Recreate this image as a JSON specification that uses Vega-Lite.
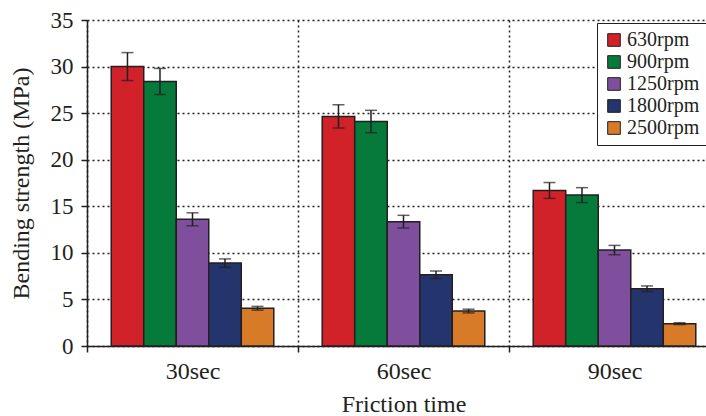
{
  "$schema": "https://vega.github.io/schema/vega-lite/v6.json",
  "width": 633,
  "height": 326,
  "autosize": {"type": "none"},
  "padding": {"left": 87, "top": 20, "right": 0, "bottom": 70},
  "config": {"font": "Liberation Serif", "view": {"stroke": null}},
  "data": {
    "values": [
      {"time": "30sec", "speed": "630rpm", "value": 30.0, "lo": 28.5, "hi": 31.5},
      {"time": "30sec", "speed": "900rpm", "value": 28.4, "lo": 27.0, "hi": 29.8},
      {"time": "30sec", "speed": "1250rpm", "value": 13.6, "lo": 12.9, "hi": 14.3},
      {"time": "30sec", "speed": "1800rpm", "value": 8.9, "lo": 8.45, "hi": 9.35},
      {"time": "30sec", "speed": "2500rpm", "value": 4.05, "lo": 3.85, "hi": 4.25},
      {"time": "60sec", "speed": "630rpm", "value": 24.65, "lo": 23.4, "hi": 25.9},
      {"time": "60sec", "speed": "900rpm", "value": 24.1, "lo": 22.9, "hi": 25.3},
      {"time": "60sec", "speed": "1250rpm", "value": 13.35, "lo": 12.67, "hi": 14.03},
      {"time": "60sec", "speed": "1800rpm", "value": 7.65, "lo": 7.25, "hi": 8.05},
      {"time": "60sec", "speed": "2500rpm", "value": 3.75, "lo": 3.55, "hi": 3.95},
      {"time": "90sec", "speed": "630rpm", "value": 16.7, "lo": 15.85, "hi": 17.55},
      {"time": "90sec", "speed": "900rpm", "value": 16.2, "lo": 15.4, "hi": 17.0},
      {"time": "90sec", "speed": "1250rpm", "value": 10.3, "lo": 9.8, "hi": 10.8},
      {"time": "90sec", "speed": "1800rpm", "value": 6.15, "lo": 5.85, "hi": 6.45},
      {"time": "90sec", "speed": "2500rpm", "value": 2.4, "lo": 2.3, "hi": 2.5}
    ]
  },
  "encoding": {
    "x": {
      "field": "time",
      "type": "nominal",
      "sort": ["30sec", "60sec", "90sec"],
      "scale": {"paddingInner": 0, "paddingOuter": 0},
      "axis": {
        "title": "Friction time",
        "labelAngle": 0,
        "tickBand": "extent",
        "grid": true,
        "gridDash": [2, 3],
        "gridColor": "#231f20",
        "gridWidth": 1.5,
        "domainColor": "#231f20",
        "domainWidth": 1.5,
        "tickColor": "#231f20",
        "tickWidth": 1.5,
        "tickSize": 6,
        "labelFontSize": 24,
        "labelPadding": 7,
        "labelColor": "#231f20",
        "titleFontSize": 24,
        "titleFontWeight": "normal",
        "titleColor": "#231f20",
        "titlePadding": 9
      }
    },
    "xOffset": {
      "field": "speed",
      "type": "nominal",
      "sort": ["630rpm", "900rpm", "1250rpm", "1800rpm", "2500rpm"],
      "scale": {"paddingInner": 0, "paddingOuter": 0.745}
    }
  },
  "layer": [
    {
      "mark": {"type": "bar", "stroke": "#231f20", "strokeWidth": 1.5},
      "encoding": {
        "y": {
          "field": "value",
          "type": "quantitative",
          "scale": {"domain": [0, 35], "nice": false},
          "axis": {
            "title": "Bending strength (MPa)",
            "values": [0, 5, 10, 15, 20, 25, 30, 35],
            "grid": true,
            "gridDash": [2, 3],
            "gridColor": "#231f20",
            "gridWidth": 1.5,
            "domainColor": "#231f20",
            "domainWidth": 1.5,
            "tickColor": "#231f20",
            "tickWidth": 1.5,
            "tickSize": 6,
            "labelFontSize": 23,
            "labelPadding": 8,
            "labelColor": "#231f20",
            "titleFontSize": 24,
            "titleFontWeight": "normal",
            "titleColor": "#231f20",
            "titlePadding": 17
          }
        },
        "color": {
          "field": "speed",
          "type": "nominal",
          "sort": ["630rpm", "900rpm", "1250rpm", "1800rpm", "2500rpm"],
          "scale": {
            "domain": ["630rpm", "900rpm", "1250rpm", "1800rpm", "2500rpm"],
            "range": ["#d12229", "#067a3b", "#7f4f9e", "#24346d", "#d87b29"]
          },
          "legend": {
            "orient": "none",
            "legendX": 510,
            "legendY": 3,
            "title": null,
            "strokeColor": "#231f20",
            "fillColor": "white",
            "padding": 7,
            "labelFontSize": 20,
            "labelColor": "#231f20",
            "symbolType": "square",
            "symbolSize": 160,
            "symbolStrokeColor": "#231f20",
            "symbolStrokeWidth": 1,
            "symbolOpacity": 1,
            "rowPadding": 2,
            "labelOffset": 3
          }
        }
      }
    },
    {
      "mark": {"type": "rule", "color": "#231f20", "strokeWidth": 1.5},
      "encoding": {
        "y": {"field": "lo", "type": "quantitative"},
        "y2": {"field": "hi"}
      }
    },
    {
      "mark": {"type": "tick", "color": "#231f20", "size": 12, "thickness": 1.5},
      "encoding": {"y": {"field": "lo", "type": "quantitative"}}
    },
    {
      "mark": {"type": "tick", "color": "#231f20", "size": 12, "thickness": 1.5},
      "encoding": {"y": {"field": "hi", "type": "quantitative"}}
    }
  ]
}
